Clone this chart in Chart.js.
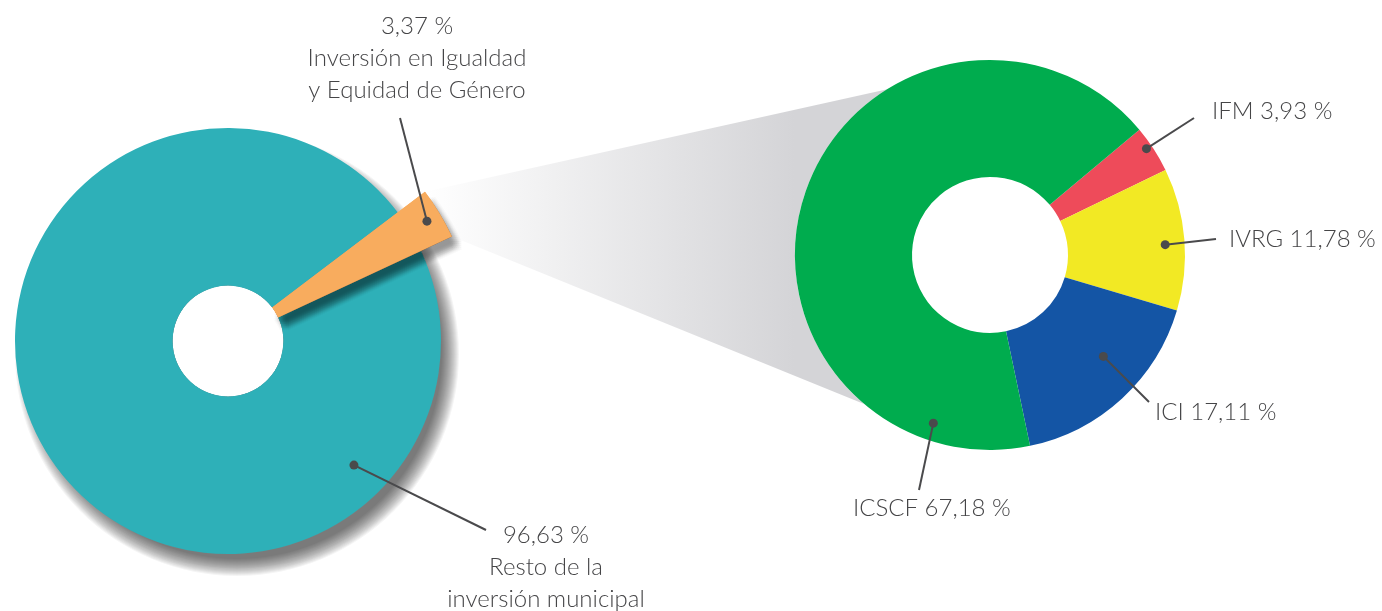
<!DOCTYPE html>
<html>
<head>
<meta charset="utf-8">
<script src="https://cdn.jsdelivr.net/npm/chart.js@4.4.1/dist/chart.umd.min.js"></script>
<style>
  body { margin: 0; background: #fff; }
  #wrap { position: relative; width: 1382px; height: 611px; overflow: hidden; }
  canvas { position: absolute; top: 0; }
  #zoom { left: 0; }
  #pie-total { left: 0; }
  #pie-detail { left: 700px; }
</style>
</head>
<body>
<div id="wrap">
  <canvas id="zoom" width="1382" height="611"></canvas>
  <canvas id="pie-total" width="700" height="611"></canvas>
  <canvas id="pie-detail" width="682" height="611"></canvas>
</div>
<script>
// left pie: whole municipal investment
var totalLabels = [['Resto de la', 'inversión municipal'], ['Inversión en Igualdad', 'y Equidad de Género']];
var totalValues = [96.63, 3.37];
var totalColors = ['#2eb0b8', '#f8ac5e'];

// right doughnut: breakdown of the gender equality slice
var detailLabels = ['IFM', 'IVRG', 'ICI', 'ICSCF'];
var detailValues = [3.93, 11.78, 17.11, 67.18];
var detailColors = ['#ee4b5a', '#f2e924', '#1455a5', '#00ac4e'];

var textColor = '#454547';
var lineColor = '#4a4a4c';
var font = '300 24px Lato';

function pct(v) {
  return v.toFixed(2).replace('.', ',') + ' %';
}

// leader lines + dots + captions, dot placed along the arc
var callouts = {
  id: 'callouts',
  afterDraw: function (chart, args, opts) {
    var ctx = chart.ctx;
    var arcs = chart.getDatasetMeta(0).data;
    var values = chart.data.datasets[0].data;
    var labels = chart.data.labels;
    ctx.save();
    ctx.strokeStyle = lineColor;
    ctx.fillStyle = lineColor;
    ctx.lineWidth = 2;
    opts.items.forEach(function (c, i) {
      var a = arcs[i];
      var ang = a.startAngle + c.along * (a.endAngle - a.startAngle);
      var r = a.outerRadius * c.depth;
      var x = a.x + Math.cos(ang) * r;
      var y = a.y + Math.sin(ang) * r;
      ctx.beginPath();
      ctx.moveTo(x, y);
      ctx.lineTo(c.end[0], c.end[1]);
      ctx.stroke();
      ctx.beginPath();
      ctx.arc(x, y, 4.5, 0, Math.PI * 2);
      ctx.fill();
    });
    ctx.fillStyle = textColor;
    ctx.font = font;
    ctx.textBaseline = 'middle';
    opts.items.forEach(function (c, i) {
      var lines = opts.stacked ? [pct(values[i])].concat(labels[i]) : [labels[i] + ' ' + pct(values[i])];
      ctx.textAlign = c.align;
      lines.forEach(function (t, k) {
        ctx.fillText(t, c.text[0], c.text[1] + k * 32);
      });
    });
    ctx.restore();
  }
};

// soft drop shadow built from stacked translucent fills
var pieShadow = {
  id: 'pieShadow',
  afterUpdate: function (chart, args, opts) {
    chart.getDatasetMeta(0).data[opts.raised].outerRadius *= opts.stretch;
  },
  beforeDatasetsDraw: function (chart, args, opts) {
    var ctx = chart.ctx;
    var arc = chart.getDatasetMeta(0).data[0];
    ctx.save();
    ctx.beginPath();
    ctx.rect(0, 0, chart.width, chart.height);
    ctx.moveTo(arc.x + arc.innerRadius, arc.y);
    ctx.arc(arc.x, arc.y, arc.innerRadius, 0, Math.PI * 2);
    ctx.clip('evenodd');
    ctx.fillStyle = 'rgba(0,0,0,0.042)';
    for (var i = 0; i < 18; i++) {
      ctx.beginPath();
      ctx.arc(arc.x + 9, arc.y + 13, arc.outerRadius + 9 - i, 0, Math.PI * 2);
      ctx.fill();
    }
    ctx.restore();
  },
  afterDatasetsDraw: function (chart, args, opts) {
    var ctx = chart.ctx;
    var a = chart.getDatasetMeta(0).data[opts.raised];
    ctx.save();
    ctx.fillStyle = 'rgba(0,0,0,0.022)';
    for (var dx = 2; dx <= 10; dx += 2) {
      for (var dy = 5; dy <= 13; dy += 2) {
        ctx.beginPath();
        ctx.arc(a.x + dx, a.y + dy, a.outerRadius, a.startAngle, a.endAngle);
        ctx.arc(a.x + dx, a.y + dy, a.innerRadius, a.endAngle, a.startAngle, true);
        ctx.closePath();
        ctx.fill();
      }
    }
    ctx.restore();
    a.draw(ctx);
  }
};

var totalChart = new Chart(document.getElementById('pie-total'), {
  type: 'doughnut',
  data: {
    labels: totalLabels,
    datasets: [{ data: totalValues, backgroundColor: totalColors, borderWidth: 0 }]
  },
  options: {
    responsive: false,
    animation: false,
    events: [],
    radius: 213,
    cutout: '26%',
    rotation: 65,
    layout: { padding: { left: 15, right: 259, top: 130, bottom: 59 } },
    plugins: {
      legend: { display: false },
      tooltip: { enabled: false },
      pieShadow: { raised: 1, stretch: 1.16 },
      callouts: {
        stacked: true,
        items: [
          { along: 0.2, depth: 0.83, end: [486, 530], text: [546, 535], align: 'center' },
          { along: 0.5, depth: 0.94, end: [400, 118], text: [417, 26], align: 'center' }
        ]
      }
    }
  },
  plugins: [pieShadow, callouts]
});

var detailCanvas = document.getElementById('pie-detail');
var detailChart = new Chart(detailCanvas, {
  type: 'doughnut',
  data: {
    labels: detailLabels,
    datasets: [{ data: detailValues, backgroundColor: detailColors, borderWidth: 0 }]
  },
  options: {
    responsive: false,
    animation: false,
    events: [],
    radius: 195,
    cutout: '40%',
    rotation: 50,
    layout: { padding: { left: 95, right: 197, top: 60, bottom: 161 } },
    plugins: {
      legend: { display: false },
      tooltip: { enabled: false },
      callouts: {
        stacked: false,
        items: [
          { along: 0.41, depth: 0.97, end: [494, 118], text: [512, 111], align: 'left' },
          { along: 0.53, depth: 0.9, end: [516, 239], text: [529, 239], align: 'left' },
          { along: 0.41, depth: 0.78, end: [449, 402], text: [455, 412], align: 'left' },
          { along: 0.126, depth: 0.91, end: [219, 490], text: [153, 508], align: 'left' }
        ]
      }
    }
  },
  plugins: [callouts]
});

// grey fan from the pulled-out slice to the detail doughnut
function drawZoom() {
  var ctx = document.getElementById('zoom').getContext('2d');
  var slice = totalChart.getDatasetMeta(0).data[1];
  var ring = detailChart.getDatasetMeta(0).data[0];
  var cx = ring.x + detailCanvas.offsetLeft;
  var cy = ring.y;
  var R = ring.outerRadius;
  var p1 = { x: slice.x + Math.cos(slice.startAngle) * slice.outerRadius, y: slice.y + Math.sin(slice.startAngle) * slice.outerRadius };
  var p2 = { x: slice.x + Math.cos(slice.endAngle) * slice.outerRadius, y: slice.y + Math.sin(slice.endAngle) * slice.outerRadius };
  var mid = Math.atan2((p1.y + p2.y) / 2 - cy, (p1.x + p2.x) / 2 - cx);
  var spread = 54 * Math.PI / 180;
  var aTop = mid + spread;
  var aBot = mid - spread;

  var grad = ctx.createLinearGradient(p1.x, 0, cx - R, 0);
  grad.addColorStop(0, '#ffffff');
  grad.addColorStop(1, '#d4d4d7');
  ctx.fillStyle = grad;
  ctx.beginPath();
  ctx.moveTo(p1.x, p1.y);
  ctx.lineTo(cx + Math.cos(aTop) * R, cy + Math.sin(aTop) * R);
  ctx.arc(cx, cy, R, aTop, aBot, true);
  ctx.lineTo(p2.x, p2.y);
  ctx.closePath();
  ctx.fill();
}
drawZoom();
</script>
</body>
</html>
